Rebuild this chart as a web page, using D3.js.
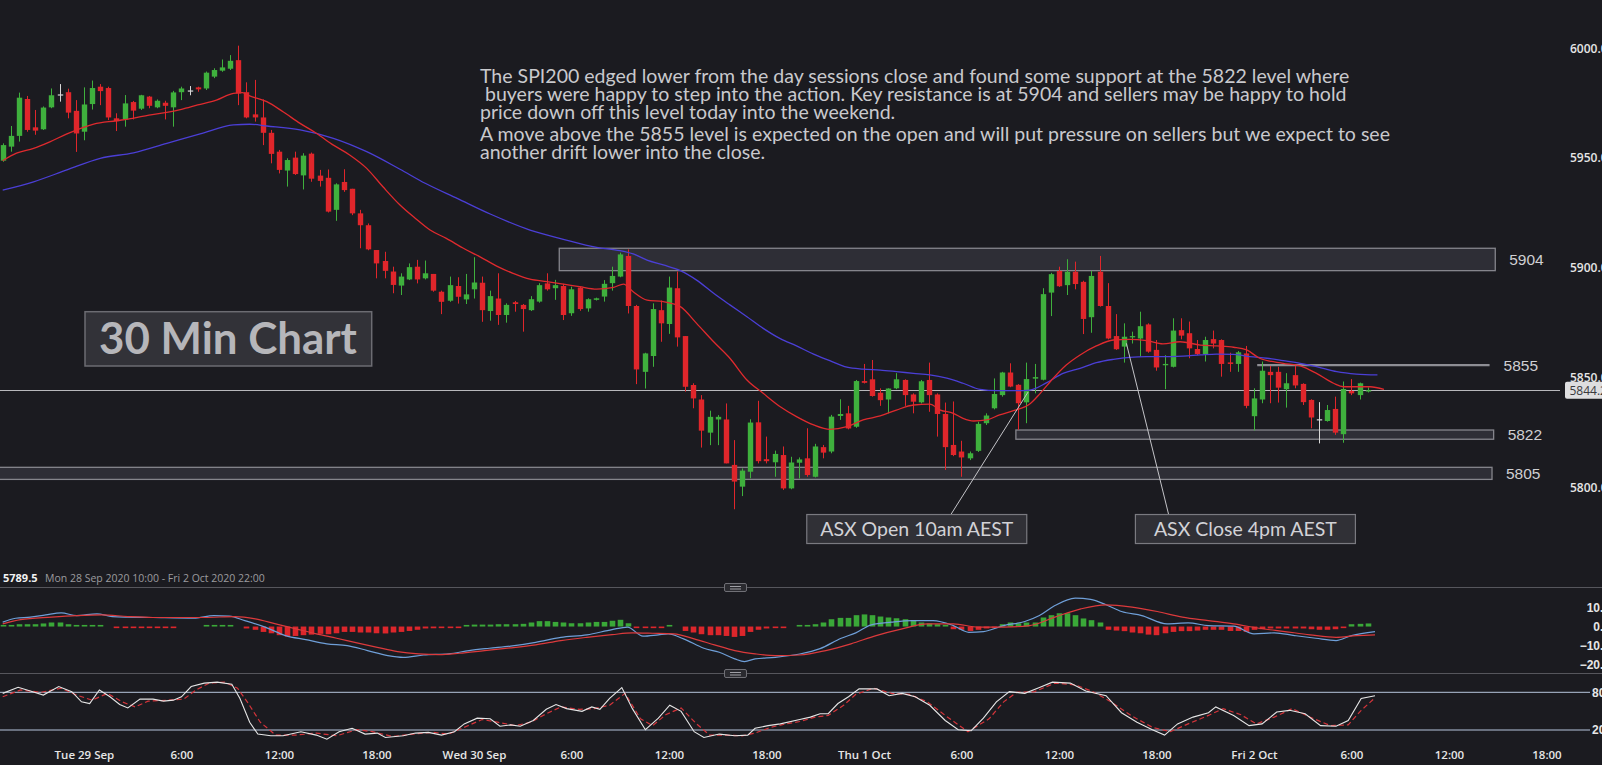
<!DOCTYPE html>
<html>
<head>
<meta charset="utf-8">
<title>SPI200 30 Min Chart</title>
<script src="https://cdn.jsdelivr.net/npm/d3@7/dist/d3.min.js"></script>
<style>
  html, body { margin: 0; padding: 0; background: #1b1b20; overflow: hidden; }
  svg { display: block; }
</style>
</head>
<body>
<svg id="svg1" width="1602" height="765"></svg>
<script>
// 30 minute bars, first visible bar opens Mon 28 Sep 19:00
var firstBar = "2020-09-28 19:00";

var barOpen = [
 5948.8,5955.2,5960.1,5976.9,5964.0,5963.1,5973.1,5979.0,5980.0,5971.5,
 5962.0,5974.6,5982.5,5981.9,5968.1,5967.6,5975.5,5972.5,5978.0,5973.1,
 5975.2,5973.1,5980.0,5980.8,5982.2,5981.7,5987.1,5989.8,5990.7,5994.6,
 5980.0,5969.9,5968.5,5961.5,5952.9,5944.3,5950.2,5942.1,5952.0,5942.0,
 5941.0,5926.4,5939.1,5936.0,5924.8,5919.4,5908.1,5903.1,5898.3,5891.9,
 5894.7,5900.5,5895.2,5897.2,5889.1,5885.0,5891.7,5885.6,5890.2,5893.2,
 5880.3,5886.0,5878.5,5884.3,5883.1,5880.7,5884.6,5892.9,5890.7,5891.7,
 5879.3,5891.0,5881.5,5885.4,5886.9,5893.0,5896.0,5905.4,5882.6,5852.6,
 5859.8,5880.7,5874.4,5890.7,5868.9,5846.6,5840.0,5824.9,5830.9,5830.9,
 5810.2,5800.3,5807.1,5829.6,5812.8,5811.4,5814.7,5799.5,5811.2,5813.2,
 5804.8,5818.3,5816.3,5832.5,5833.7,5827.6,5848.4,5849.2,5843.1,5840.0,
 5845.1,5848.9,5842.3,5838.7,5848.9,5842.3,5833.4,5819.3,5816.3,5813.2,
 5816.6,5829.2,5836.0,5842.0,5852.3,5846.7,5838.7,5849.5,5849.0,5888.7,
 5898.6,5892.1,5898.2,5893.6,5877.5,5898.2,5882.6,5868.9,5864.1,5868.3,
 5867.8,5874.2,5862.6,5855.6,5854.9,5871.6,5870.2,5863.0,5860.7,5867.5,
 5867.1,5856.9,5856.2,5861.0,5832.4,5840.0,5852.6,5852.6,5844.7,5851.1,
 5847.1,5839.8,5831.0,5830.2,5835.7,5824.2,5843.9,5842.0,5843.6
];
var barHigh = [
 5956.7,5964.6,5979.8,5978.3,5971.9,5973.5,5981.7,5983.7,5981.6,5976.4,
 5982.2,5985.3,5983.7,5982.5,5970.4,5978.7,5976.0,5978.8,5978.3,5976.7,
 5976.1,5980.6,5982.5,5982.8,5982.5,5989.4,5990.9,5994.9,5996.9,6001.2,
 5984.5,5985.6,5976.7,5962.8,5953.7,5949.9,5952.9,5952.2,5952.5,5944.6,
 5944.8,5938.5,5944.9,5936.0,5926.4,5920.2,5908.1,5907.3,5900.5,5897.5,
 5902.0,5903.6,5903.3,5897.2,5889.6,5896.0,5895.7,5897.2,5904.8,5896.0,
 5889.6,5897.5,5883.8,5884.9,5883.5,5887.1,5893.0,5897.5,5894.5,5892.7,
 5891.4,5891.4,5886.1,5886.4,5894.4,5900.5,5906.9,5908.4,5883.1,5861.3,
 5883.8,5885.1,5896.0,5898.3,5868.9,5847.4,5842.0,5834.9,5832.9,5838.2,
 5821.5,5808.6,5831.0,5839.4,5823.1,5816.7,5818.6,5813.9,5813.6,5826.9,
 5819.8,5819.3,5833.0,5840.1,5837.1,5848.9,5856.2,5858.0,5845.1,5845.1,
 5852.0,5849.2,5842.8,5848.9,5856.8,5842.8,5838.6,5839.1,5821.2,5816.3,
 5829.9,5833.7,5849.6,5852.6,5856.5,5847.0,5856.8,5856.2,5890.7,5897.7,
 5900.5,5903.9,5902.8,5894.1,5898.6,5905.4,5893.0,5878.9,5874.7,5870.9,
 5880.0,5874.7,5867.1,5860.2,5877.0,5877.0,5875.5,5867.1,5868.6,5871.4,
 5867.4,5861.3,5862.1,5864.4,5845.1,5857.3,5855.3,5854.9,5852.0,5855.3,
 5847.4,5840.1,5838.8,5837.5,5841.3,5848.2,5849.3,5847.7,5845.5
];
var barLow = [
 5948.3,5952.9,5957.5,5962.0,5960.6,5962.8,5972.7,5975.7,5968.1,5952.8,
 5958.1,5972.1,5974.1,5967.3,5962.3,5964.3,5967.6,5971.9,5972.7,5972.7,
 5967.6,5964.3,5976.4,5978.6,5980.2,5981.0,5986.4,5989.3,5990.1,5974.1,
 5968.1,5966.6,5955.9,5947.6,5943.0,5937.0,5942.3,5935.7,5939.2,5937.0,
 5925.2,5921.4,5934.6,5924.0,5908.9,5908.0,5895.2,5895.2,5888.4,5887.6,
 5894.4,5892.9,5894.7,5889.1,5878.9,5884.5,5883.7,5883.5,5886.0,5875.4,
 5875.9,5874.0,5875.0,5880.0,5870.9,5880.3,5884.1,5889.6,5885.4,5876.2,
 5878.1,5880.4,5880.0,5885.1,5884.6,5889.6,5895.7,5879.2,5847.0,5845.0,
 5854.9,5866.3,5869.9,5864.1,5843.6,5836.0,5818.1,5819.2,5819.2,5810.9,
 5790.0,5796.0,5804.1,5810.9,5810.9,5804.8,5798.8,5799.1,5804.0,5804.8,
 5804.5,5813.2,5815.5,5830.7,5826.4,5827.1,5847.3,5841.3,5837.1,5833.7,
 5844.7,5837.1,5833.7,5838.2,5834.4,5823.1,5807.9,5814.2,5804.8,5812.4,
 5816.1,5828.4,5835.5,5841.3,5845.6,5826.2,5829.2,5842.8,5848.7,5878.0,
 5891.3,5887.6,5890.2,5869.8,5870.4,5882.3,5867.4,5862.6,5856.8,5865.5,
 5859.5,5861.3,5853.1,5844.7,5854.6,5867.4,5858.8,5860.2,5857.3,5863.3,
 5850.4,5852.6,5852.6,5836.0,5825.9,5838.3,5838.3,5838.6,5836.3,5845.1,
 5837.5,5826.9,5820.0,5829.9,5823.9,5820.3,5842.0,5840.0,5843.2
];
var barClose = [
 5955.9,5960.1,5977.5,5962.8,5962.5,5973.0,5978.6,5979.0,5970.7,5961.2,
 5974.4,5981.9,5980.5,5968.5,5966.8,5974.9,5971.6,5978.6,5973.8,5976.1,
 5973.8,5979.9,5981.7,5980.8,5981.3,5988.9,5990.1,5991.3,5994.3,5979.4,
 5968.5,5968.5,5961.5,5951.9,5944.6,5949.1,5942.7,5951.1,5940.6,5939.6,
 5925.6,5938.0,5935.4,5924.8,5919.4,5908.4,5902.0,5898.6,5892.2,5896.0,
 5900.3,5894.7,5897.5,5889.6,5884.5,5892.1,5886.8,5887.9,5893.3,5880.7,
 5887.1,5878.5,5883.1,5883.5,5881.2,5885.7,5892.1,5890.2,5892.1,5878.5,
 5890.2,5881.2,5885.7,5886.1,5892.7,5896.3,5906.1,5882.6,5853.7,5861.0,
 5881.2,5874.7,5891.0,5868.3,5845.8,5840.5,5825.8,5832.1,5832.1,5810.9,
 5802.6,5807.6,5829.5,5811.9,5811.9,5815.2,5799.5,5811.3,5812.7,5805.6,
 5818.6,5815.8,5832.2,5833.4,5826.8,5848.4,5847.6,5841.6,5839.7,5845.0,
 5849.2,5842.0,5839.0,5848.3,5842.0,5833.4,5818.3,5814.7,5813.6,5815.5,
 5828.9,5832.7,5842.5,5852.3,5845.9,5838.3,5849.3,5850.2,5888.0,5897.1,
 5891.6,5898.2,5892.6,5876.7,5896.3,5882.6,5867.8,5862.9,5868.6,5868.9,
 5873.4,5861.8,5854.6,5856.2,5871.4,5869.1,5863.3,5860.7,5867.1,5865.5,
 5856.2,5856.2,5861.5,5837.1,5840.5,5853.1,5851.1,5845.4,5847.4,5846.4,
 5838.8,5831.8,5831.0,5835.2,5824.9,5844.8,5842.8,5847.4,5844.2
];

// moving averages: [bar, value]
var maFast = [
 [0,5948.8],[1.7,5952.2],[3.8,5954.4],[5.8,5957.4],[7.9,5961.0],[11.2,5965.5],[14,5967.0],[16,5968.1],
 [18,5969.6],[20,5970.7],[22,5972.2],[24,5974.2],[26.3,5976.4],[28.4,5979.5],[29.5,5979.8],[30.4,5978.3],
 [32.5,5975.7],[34.5,5971.1],[36.6,5965.8],[38.6,5961.3],[40.7,5955.9],[42.7,5951.4],[44.8,5945.3],
 [46.8,5936.9],[48.9,5928.6],[50.8,5922.5],[52.6,5917.2],[54.6,5913.4],[56.7,5908.9],[58.7,5905.1],
 [60.8,5900.8],[62.8,5897.5],[64.9,5894.8],[67,5893.7],[69,5892.6],[71,5891.4],[73.1,5890.3],[75.2,5891.1],
 [76.4,5892.6],[77.6,5889.1],[79.3,5885.3],[81.3,5884.6],[83.4,5882.3],[85.4,5874.7],[87.5,5866.3],
 [89.5,5858.8],[91.6,5848.9],[93.6,5842.8],[95.7,5836.7],[97.7,5832.2],[99.8,5828.4],[101.8,5826.4],
 [103.9,5827.6],[105.9,5830.7],[108,5832.5],[110,5835.2],[112.1,5837.5],[114.1,5837.9],[115.4,5835.2],
 [117,5833.7],[118.2,5831.4],[119.5,5830.2],[121.1,5830.7],[122.7,5833.0],[124.4,5834.9],[126.4,5837.9],
 [127.7,5842.8],[129.3,5849.7],[130.9,5855.7],[132.6,5860.3],[134.6,5864.4],[136.7,5867.1],[138.7,5867.4],
 [140.8,5866.8],[142.8,5865.3],[144.9,5866.3],[147.4,5864.8],[149.4,5864.4],[151.5,5863.8],[153.1,5862.6],
 [154.7,5858.8],[157.6,5856.5],[159.7,5855.3],[161.7,5851.9],[163.8,5847.4],[165,5845.8],[166.6,5845.8],
 [168.3,5845.8],[170,5844.6]
];
var maSlow = [
 [0,5935.4],[3.8,5939.2],[7.9,5944.6],[12,5949.9],[16.1,5952.4],[20.2,5956.7],[24.3,5961.0],[28.4,5965.1],
 [30.4,5965.4],[32.5,5964.6],[36.6,5962.8],[40.7,5959.0],[44.8,5952.9],[48.9,5944.9],[52,5938.5],[56,5931.5],
 [60,5924.5],[64.9,5917.2],[69,5913.0],[73.1,5909.3],[76,5907.8],[77.6,5906.3],[79.3,5903.5],[81.3,5901.3],
 [83.4,5898.7],[85.4,5894.4],[87.5,5888.4],[89.5,5883.1],[91.6,5877.7],[93.6,5872.4],[95.7,5867.7],
 [97.7,5864.4],[99.8,5860.7],[101.8,5857.7],[103.9,5854.7],[105.9,5853.8],[108,5853.4],[110,5852.7],
 [112.1,5851.9],[114.1,5851.2],[116.2,5849.7],[118.2,5847.4],[120.3,5844.6],[122.3,5844.0],[124.4,5844.0],
 [126.4,5844.3],[128.5,5847.7],[130.5,5851.9],[132.6,5854.2],[134.6,5856.8],[136.7,5858.3],[138.7,5859.2],
 [140.8,5859.5],[142.8,5859.5],[145.3,5859.8],[147.4,5860.3],[149.4,5860.7],[151.5,5860.6],[153.5,5859.5],
 [155.6,5858.8],[157.6,5857.7],[159.7,5856.5],[161.7,5855.0],[164.2,5852.7],[166.6,5851.6],[169.2,5851.2]
];

// MACD histogram, one value per bar
var macdHist = [
 0.8,0.8,1.2,1.2,1.2,1.6,2.1,2.1,1.2,0.35,0.35,0.35,0.5,0,-0.35,-0.35,-0.35,-0.35,-0.35,-0.35,
 -0.35,-0.35,0,0,0,0.35,0.35,0.35,0.35,0,-1.0,-1.7,-2.8,-3.5,-4.5,-5.2,-4.9,-4.5,-4.2,-3.8,
 -4.0,-3.5,-2.8,-2.8,-3.1,-3.1,-3.5,-3.6,-3.1,-2.8,-2.3,-1.7,-1.0,-0.9,-0.7,-0.5,-0.2,0.7,1.0,1.0,
 1.0,1.2,1.2,1.2,1.4,2.1,2.8,2.8,2.4,2.1,1.7,1.7,2.1,2.4,2.4,3.0,3.5,1.7,-0.5,-0.7,
 -0.5,-0.5,0.35,0,-2.3,-3.1,-4.0,-4.5,-4.5,-4.9,-5.4,-4.9,-2.8,-1.7,-1.0,-0.7,-0.7,0,0.5,0.5,
 1.2,2.1,3.8,4.5,4.5,5.9,6.3,5.9,5.2,4.7,4.3,3.8,3.3,2.1,1.6,1.2,0.5,-1.4,-1.7,-2.3,
 -1.7,-1.0,-0.5,1.2,2.1,1.7,2.1,2.1,4.7,5.9,6.9,6.9,5.9,4.2,3.3,2.1,-1.7,-2.1,-2.4,-3.1,
 -3.5,-4.2,-4.5,-3.5,-2.8,-2.4,-2.4,-2.1,-1.7,-1.7,-1.7,-2.3,-2.3,-2.8,-1.7,-1.4,-1.0,-1.0,-1.0,-1.0,
 -1.0,-1.4,-1.7,-1.7,-1.4,-0.35,1.2,1.4,1.6
];
var macdLine = [
 [0,2.3],[1.6,4.3],[3.4,4.9],[5.3,6.1],[7.2,7.1],[9.1,5.7],[11.6,6.6],[13.5,5.2],[18.5,4.7],[23.5,4.3],
 [26,5.7],[27.9,5.4],[29.8,3.1],[32.3,-0.3],[34.8,-4.7],[37.3,-6.8],[39.9,-9.0],[42.4,-9.9],[44.9,-12.5],
 [47.4,-15.1],[49.3,-16.0],[51.8,-14.8],[54.9,-14.2],[57.4,-12.5],[59.9,-11.3],[62.5,-10.2],[65.6,-8.2],
 [68.7,-5.6],[71.9,-4.3],[75,-1.6],[76.9,-0.3],[78.8,-5.0],[80.7,-4.3],[81.9,-3.8],[83.8,-6.4],[86.3,-11.3],
 [88.2,-13.4],[90.1,-16.8],[91.3,-18.2],[92.6,-16.8],[95.1,-16.0],[98.1,-14.3],[100.6,-11.5],[103.2,-6.1],
 [105,-3.3],[106.9,0.9],[109.4,2.3],[111.9,3.1],[114.5,3.1],[117,0.5],[118.9,-3.0],[120.7,-2.6],[123.2,0.5],
 [125.8,2.6],[127.6,5.7],[129.5,10.9],[132,14.8],[133.9,14.1],[135.8,11.3],[137.7,7.8],[140.2,5.7],
 [143.3,1.4],[145.9,1.9],[148.4,0.5],[151.5,0.2],[154,-3.8],[156.5,-3.3],[159,-4.7],[161.6,-6.1],
 [164.1,-7.3],[166,-4.7],[168.9,-2.6]
];
var macdSignal = [
 [0,1.4],[2.2,3.6],[6,4.9],[9.1,5.7],[12.2,6.1],[15.4,5.2],[18.5,4.7],[24.8,4.7],[28.6,5.2],[31.1,4.0],
 [33.6,1.4],[36.1,-1.2],[38.6,-3.8],[41.1,-6.1],[43.6,-8.5],[46.1,-10.8],[48.6,-13.0],[51.2,-14.2],
 [53.7,-14.6],[56.2,-13.9],[59.3,-12.5],[62.5,-11.1],[65.6,-9.5],[68.7,-7.3],[71.9,-5.6],[75,-4.2],
 [77.5,-3.3],[80,-3.5],[82.6,-3.8],[85.1,-6.4],[87.6,-9.5],[90.1,-12.5],[92.6,-14.2],[95.1,-15.1],
 [98.1,-14.8],[101.3,-12.5],[104.4,-9.0],[107.5,-4.7],[110.7,-1.2],[113.8,1.4],[117,1.4],[120.1,-0.3],
 [123.2,-0.3],[126.4,0.5],[129.5,4.9],[132.7,9.2],[135.8,11.3],[139,10.1],[142.1,7.8],[145.2,4.9],
 [148.4,3.1],[151.5,1.4],[154.6,-0.9],[157.8,-2.6],[160.9,-4.3],[164.1,-5.6],[166.6,-4.7],[168.9,-4.3]
];

// stochastic %K and %D
var stochK = [
 [0,78.3],[1.9,88.1],[3.4,82.1],[5,75.6],[6.9,89.2],[8.5,81.0],[9.7,64.8],[10.7,62.1],[11.9,83.7],[13.2,72.9],
 [14.4,60.5],[15.4,55.1],[16.9,69.2],[18.5,69.2],[19.8,65.9],[21,67.5],[22,72.9],[23.2,89.2],[24.8,94.6],
 [26.4,96.2],[28.2,92.9],[29.2,70.2],[30.4,32.4],[31.4,13.5],[33,10.8],[34.5,10.8],[36.7,17.3],[38.6,11.9],
 [39.9,5.4],[41.4,17.3],[43,22.7],[44.6,13.5],[46.1,15.1],[47.1,8.1],[49.3,10.8],[50.8,15.1],[52.4,16.2],
 [54,11.9],[55.6,17.3],[56.8,29.7],[58.4,38.9],[60,37.8],[61.2,25.9],[62.5,28.1],[63.7,25.9],[65.3,35.1],
 [66.9,52.9],[68.1,60.5],[69.4,54.0],[71.3,49.7],[72.5,56.7],[73.5,52.9],[74.7,70.2],[76.2,87.5],[77.5,54.0],
 [79.1,20.5],[80.7,38.9],[82.1,59.4],[83.5,49.7],[85.1,17.3],[86.3,8.1],[88.2,13.5],[90.1,10.8],[91.7,11.9],
 [92.6,22.7],[94.2,27.0],[95.7,29.7],[98.1,36.7],[99.4,40.5],[100.6,45.9],[101.6,45.9],[102.8,62.1],
 [104.1,72.9],[105.4,85.4],[107.6,85.4],[109.1,74.6],[110.7,78.3],[112.3,72.9],[114.1,59.4],[116,35.1],
 [117.6,20.5],[119.2,18.9],[120.7,38.9],[122.3,64.8],[123.9,81.0],[125.8,78.3],[127.6,87.5],[129.2,96.2],
 [131.4,94.6],[133.3,82.1],[135.8,74.6],[137.7,47.5],[139.6,32.4],[141.5,20.5],[143,11.9],[144.6,29.7],
 [146.5,40.5],[148.4,47.5],[149.3,56.7],[151.5,43.2],[153.4,27.0],[155,29.7],[156.8,48.6],[158.4,51.3],
 [160.3,45.9],[162.2,27.0],[164.1,25.9],[165.6,35.1],[167.2,70.2],[168.9,74.6]
];
var stochD = [
 [0,72.9],[2.2,83.7],[4.7,80.0],[7.2,86.5],[9.1,75.6],[11,67.5],[12.9,78.3],[14.7,64.8],[16.3,56.7],[17.9,65.9],
 [20.4,67.5],[22.3,69.2],[23.8,83.7],[25.4,94.6],[27.3,96.2],[28.9,86.5],[30.1,64.8],[31.7,32.4],[33.6,11.9],
 [36.1,11.9],[38.6,15.1],[41.1,10.8],[43.6,20.5],[45.5,17.3],[48,9.7],[50.5,13.5],[53,16.2],[54.9,13.5],
 [57.1,25.9],[59,36.7],[60.9,32.4],[63.1,27.0],[65,32.4],[66.9,45.9],[68.7,56.7],[71,52.9],[72.8,54.0],
 [74.7,59.4],[76.6,78.3],[78.5,37.8],[80,27.0],[81.6,44.3],[83.5,55.1],[85.4,29.7],[87,11.9],[88.8,11.9],
 [91,10.8],[92.6,15.1],[94.5,24.3],[96.4,29.7],[98.1,33.5],[100,40.5],[101.6,43.2],[103.5,59.4],[105,76.7],
 [107.2,86.5],[109.4,78.3],[111.6,76.7],[113.8,64.8],[116,43.2],[118.8,17.3],[121.4,37.8],[123.2,64.8],
 [124.8,80.0],[127,81.0],[129.5,94.6],[132,91.9],[134.2,81.0],[136.4,64.8],[139,42.1],[141.5,24.3],
 [143.7,17.3],[145.9,29.7],[148.4,43.2],[150.2,54.0],[152.4,44.3],[154.3,29.7],[156.5,40.5],[158.7,54.0],
 [160.9,40.5],[163.4,27.0],[165.6,28.1],[167.2,51.3],[168.9,71.3]
];

// support / resistance zones (price range, bar span)
var zoneLabels = ["5904", "5822", "5805"];
var zoneTop = [5908.9, 5826.1, 5809.1];
var zoneBottom = [5898.7, 5821.9, 5803.6];
var zoneFrom = [68.5, 124.7, -1];
var zoneTo = [183.7, 183.5, 183.3];
var levelLine = {label: "5855", price: 5855.7, from: 154.4, to: 183.0};
var lastPrice = 5844.2;

var callouts = [
  {text: "ASX Open 10am AEST", bar: 126.2, price: 5843.4, footBar: 116.7, boxBar: 112.5, boxPrice: 5787.6},
  {text: "ASX Close 4pm AEST", bar: 138.3, price: 5865.6, footBar: 143.5, boxBar: 152.95, boxPrice: 5787.6}
];

var noteLines = [
  "The SPI200 edged lower from the day sessions close and found some support at the 5822 level where",
  " buyers were happy to step into the action. Key resistance is at 5904 and sellers may be happy to hold",
  "price down off this level today into the weekend.",
  "A move above the 5855 level is expected on the open and will put pressure on sellers but we expect to see",
  "another drift lower into the close."
];

var priceTicks = [6000, 5950, 5900, 5850, 5800];
var macdTicks = [10, 0, -10, -20];
var stochTicks = [80, 20];
var timeTicks = [
  ["2020-09-29 00:00", "Tue 29 Sep"], ["2020-09-29 06:00", "6:00"], ["2020-09-29 12:00", "12:00"], ["2020-09-29 18:00", "18:00"],
  ["2020-09-30 00:00", "Wed 30 Sep"], ["2020-09-30 06:00", "6:00"], ["2020-09-30 12:00", "12:00"], ["2020-09-30 18:00", "18:00"],
  ["2020-10-01 00:00", "Thu 1 Oct"], ["2020-10-01 06:00", "6:00"], ["2020-10-01 12:00", "12:00"], ["2020-10-01 18:00", "18:00"],
  ["2020-10-02 00:00", "Fri 2 Oct"], ["2020-10-02 06:00", "6:00"], ["2020-10-02 12:00", "12:00"], ["2020-10-02 18:00", "18:00"]
];

// ---------------------------------------------------------------
var width = 1602, height = 765;
var svg = d3.select('#svg1');
svg.append('rect').attr('width', width).attr('height', height).attr('fill', '#1b1b20');

var parseTime = d3.timeParse('%Y-%m-%d %H:%M');
var t0 = parseTime(firstBar);
var halfHour = 30 * 60 * 1000;
function barTime(i) { return new Date(t0.getTime() + i * halfHour); }

var x = d3.scaleTime().domain([barTime(0), barTime(200)]).range([2.7, 2.7 + 200 * 8.125]);
var y = d3.scaleLinear().domain([5800, 6000]).range([487.3, 48.3]);
var yMacd = d3.scaleLinear().domain([-20, 10]).range([665, 607.3]);
var yStoch = d3.scaleLinear().domain([20, 80]).range([730, 692.3]);

var defs = svg.append('defs');
defs.append('clipPath').attr('id', 'clipPrice').append('rect').attr('x', 0).attr('y', 0).attr('width', 1560).attr('height', 587);
defs.append('clipPath').attr('id', 'clipMacd').append('rect').attr('x', 0).attr('y', 588).attr('width', 1560).attr('height', 85);
defs.append('clipPath').attr('id', 'clipStoch').append('rect').attr('x', 0).attr('y', 674).attr('width', 1590).attr('height', 70);

var up = '#3fb03d', down = '#e0262b', flat = '#d8d8d8';

// ---- price panel ----
var price = svg.append('g').attr('clip-path', 'url(#clipPrice)');

// zones
price.selectAll('rect.zone')
    .data(zoneLabels)
    .enter()
    .append('rect')
    .attr('class', 'zone')
    .attr('x', function(d, i){ return x(barTime(zoneFrom[i])); })
    .attr('y', function(d, i){ return y(zoneTop[i]); })
    .attr('width', function(d, i){ return x(barTime(zoneTo[i])) - x(barTime(zoneFrom[i])); })
    .attr('height', function(d, i){ return y(zoneBottom[i]) - y(zoneTop[i]); })
    .attr('fill', 'rgba(190,190,210,0.12)')
    .attr('stroke', '#85858c')
    .attr('stroke-width', 1.3);

price.append('line')
    .attr('x1', x(barTime(levelLine.from))).attr('x2', x(barTime(levelLine.to)))
    .attr('y1', y(levelLine.price)).attr('y2', y(levelLine.price))
    .attr('stroke', '#8e8e94').attr('stroke-width', 2.2);

// last price line
price.append('line')
    .attr('x1', 0).attr('x2', 1565)
    .attr('y1', Math.round(y(lastPrice)) + 0.5).attr('y2', Math.round(y(lastPrice)) + 0.5)
    .attr('stroke', '#b8b8bc').attr('stroke-width', 1);

var candles = barOpen.map(function(o, i){
    return {t: barTime(i), o: o, h: barHigh[i], l: barLow[i], c: barClose[i]};
});
function candleColor(d){ return d.c > d.o ? up : (d.c < d.o ? down : flat); }

price.selectAll('line.wick')
    .data(candles)
    .enter()
    .append('line')
    .attr('class', 'wick')
    .attr('x1', function(d){ return Math.round(x(d.t)) + 0.5; })
    .attr('x2', function(d){ return Math.round(x(d.t)) + 0.5; })
    .attr('y1', function(d){ return y(d.h); })
    .attr('y2', function(d){ return y(d.l); })
    .attr('stroke', candleColor)
    .attr('stroke-width', 1);

var bodyW = 5.4;
price.selectAll('rect.body')
    .data(candles)
    .enter()
    .append('rect')
    .attr('class', 'body')
    .attr('x', function(d){ return Math.round(x(d.t)) + 0.5 - bodyW / 2; })
    .attr('y', function(d){ return y(Math.max(d.o, d.c)); })
    .attr('width', bodyW)
    .attr('height', function(d){ return Math.max(1.2, Math.abs(y(d.o) - y(d.c))); })
    .attr('fill', candleColor);

var maLine = d3.line()
    .x(function(d){ return x(barTime(d[0])); })
    .y(function(d){ return y(d[1]); })
    .curve(d3.curveMonotoneX);

price.append('path').datum(maSlow).attr('d', maLine)
    .attr('fill', 'none').attr('stroke', '#4b3fd6').attr('stroke-width', 1.3);
price.append('path').datum(maFast).attr('d', maLine)
    .attr('fill', 'none').attr('stroke', '#df2a2e').attr('stroke-width', 1.3);

// zone labels
var zoneText = zoneLabels.map(function(d, i){ return {label: d, price: (zoneTop[i] + zoneBottom[i]) / 2, end: zoneTo[i]}; });
zoneText.push({label: levelLine.label, price: levelLine.price, end: levelLine.to});
svg.selectAll('text.zoneLabel')
    .data(zoneText)
    .enter()
    .append('text')
    .attr('class', 'zoneLabel')
    .attr('x', function(d){ return x(barTime(d.end)) + 14; })
    .attr('y', function(d){ return y(d.price) + 5.5; })
    .attr('fill', '#cfcfd2')
    .attr('font-family', 'Liberation Sans, Arial, sans-serif')
    .attr('font-size', 15.5)
    .text(function(d){ return d.label; });

// callouts
callouts.forEach(function(c){
    var bx = x(barTime(c.boxBar)), by = y(c.boxPrice);
    svg.append('line')
        .attr('x1', x(barTime(c.footBar))).attr('y1', by)
        .attr('x2', x(barTime(c.bar))).attr('y2', y(c.price))
        .attr('stroke', '#c4c4c8').attr('stroke-width', 1);
    svg.append('rect')
        .attr('x', bx - 110).attr('y', by).attr('width', 220).attr('height', 29)
        .attr('fill', '#303036').attr('stroke', '#7a7a80').attr('stroke-width', 1.2);
    svg.append('text')
        .attr('x', bx).attr('y', by + 21)
        .attr('text-anchor', 'middle')
        .attr('fill', '#d2d2d6')
        .attr('font-family', 'Lato, sans-serif')
        .attr('font-size', 19.5)
        .text(c.text);
});

// "30 Min Chart" label
svg.append('rect').attr('x', 85).attr('y', 311.7).attr('width', 286.7).attr('height', 54.3)
    .attr('fill', '#323238').attr('stroke', '#6c6c72').attr('stroke-width', 1.5);
var bigLabel = svg.append('text')
    .attr('x', 228).attr('y', 354)
    .attr('text-anchor', 'middle')
    .attr('fill', '#b6b6ba')
    .attr('font-family', 'Lato, sans-serif')
    .attr('font-weight', 'bold')
    .attr('font-size', 44)
    .text('30 Min Chart');
var bl = bigLabel.node().getComputedTextLength();
if (bl > 0) bigLabel.attr('font-size', 44 * 258 / bl);

// commentary text, sized so the first line spans the same width as the reference
var baselines = [82.5, 100.8, 119, 140.5, 158.8];
var notes = svg.selectAll('text.note')
    .data(noteLines)
    .enter()
    .append('text')
    .attr('class', 'note')
    .attr('x', 480)
    .attr('y', function(d, i){ return baselines[i]; })
    .attr('fill', '#c9c9cd')
    .attr('font-family', 'Lato, sans-serif')
    .attr('font-size', 18)
    .style('white-space', 'pre')
    .text(function(d){ return d; });
var first = notes.nodes()[0].getComputedTextLength();
if (first > 0) notes.attr('font-size', 18 * 870 / first);

// price axis
var priceAxis = svg.append('g')
    .attr('transform', 'translate(1570,0)')
    .call(d3.axisRight(y).tickValues(priceTicks).tickFormat(d3.format('.1f')).tickSize(0).tickPadding(0));
priceAxis.select('.domain').remove();
priceAxis.selectAll('text')
    .attr('fill', '#e6e6e6')
    .attr('font-family', 'Open Sans, sans-serif')
    .attr('font-size', 12)
    .attr('font-weight', 600);

// last price tag
svg.append('rect').attr('x', 1565).attr('y', y(lastPrice) - 8.5).attr('width', 50).attr('height', 17)
    .attr('rx', 2).attr('fill', '#dedee0');
svg.append('text').attr('x', 1569.5).attr('y', y(lastPrice) + 4.3)
    .attr('fill', '#3a3a3e')
    .attr('font-family', 'Open Sans, sans-serif')
    .attr('font-size', 12)
    .text(d3.format('.1f')(lastPrice));

// header line above indicators
svg.append('text').attr('x', 3).attr('y', 582)
    .attr('fill', '#f2f2f2').attr('font-family', 'Open Sans, sans-serif')
    .attr('font-size', 11).attr('font-weight', 'bold')
    .text('5789.5');
svg.append('text').attr('x', 45).attr('y', 582)
    .attr('fill', '#9b9b9f').attr('font-family', 'Open Sans, sans-serif')
    .attr('font-size', 10.5)
    .text('Mon 28 Sep 2020 10:00 - Fri 2 Oct 2020 22:00');

// panel separators and drag handles
[587.5, 673.5].forEach(function(yy){
    svg.append('line').attr('x1', 0).attr('x2', width).attr('y1', yy).attr('y2', yy)
        .attr('stroke', '#56565c').attr('stroke-width', 1);
    svg.append('rect').attr('x', 724.5).attr('y', yy - 4).attr('width', 22).attr('height', 8)
        .attr('rx', 1.5).attr('fill', '#2a2a2f').attr('stroke', '#707076');
    svg.append('line').attr('x1', 730).attr('x2', 741).attr('y1', yy - 1).attr('y2', yy - 1).attr('stroke', '#a0a0a6');
    svg.append('line').attr('x1', 730).attr('x2', 741).attr('y1', yy + 1.5).attr('y2', yy + 1.5).attr('stroke', '#a0a0a6');
});

// ---- MACD panel ----
var macd = svg.append('g').attr('clip-path', 'url(#clipMacd)');
var histData = macdHist.map(function(v, i){ return {t: barTime(i), v: v}; })
    .filter(function(d){ return d.v !== 0; });
function histH(d){ return Math.max(1.6, Math.abs(yMacd(d.v) - yMacd(0))); }
macd.selectAll('rect.hist')
    .data(histData)
    .enter()
    .append('rect')
    .attr('class', 'hist')
    .attr('x', function(d){ return Math.round(x(d.t)) + 0.5 - 2.8; })
    .attr('width', 5.6)
    .attr('y', function(d){ return d.v > 0 ? yMacd(0) - histH(d) : yMacd(0); })
    .attr('height', histH)
    .attr('fill', function(d){ return d.v > 0 ? '#3aa838' : '#dc262b'; });

var macdPath = d3.line()
    .x(function(d){ return x(barTime(d[0])); })
    .y(function(d){ return yMacd(d[1]); })
    .curve(d3.curveMonotoneX);
macd.append('path').datum(macdLine).attr('d', macdPath)
    .attr('fill', 'none').attr('stroke', '#6f9fd8').attr('stroke-width', 1.2);
macd.append('path').datum(macdSignal).attr('d', macdPath)
    .attr('fill', 'none').attr('stroke', '#dc3a3c').attr('stroke-width', 1.2);

var macdAxis = svg.append('g')
    .attr('transform', 'translate(1610,0)')
    .call(d3.axisRight(yMacd).tickValues(macdTicks).tickFormat(d3.format('.1f')).tickSize(0).tickPadding(0));
macdAxis.select('.domain').remove();
macdAxis.selectAll('text')
    .attr('text-anchor', 'end')
    .attr('fill', '#e6e6e6')
    .attr('font-family', 'Liberation Sans, Arial, sans-serif')
    .attr('font-size', 12)
    .attr('font-weight', 'bold');

// ---- stochastic panel ----
var stoch = svg.append('g').attr('clip-path', 'url(#clipStoch)');
stochTicks.forEach(function(v){
    stoch.append('line').attr('x1', 0).attr('x2', 1591)
        .attr('y1', yStoch(v)).attr('y2', yStoch(v))
        .attr('stroke', '#b7c6dc').attr('stroke-width', 1);
});
var stochPath = d3.line()
    .x(function(d){ return x(barTime(d[0])); })
    .y(function(d){ return yStoch(d[1]); });
stoch.append('path').datum(stochD).attr('d', stochPath)
    .attr('fill', 'none').attr('stroke', '#d4343a').attr('stroke-width', 1.2)
    .attr('stroke-dasharray', '5,3');
stoch.append('path').datum(stochK).attr('d', stochPath)
    .attr('fill', 'none').attr('stroke', '#e6e6e6').attr('stroke-width', 1.1);

var stochAxis = svg.append('g')
    .attr('transform', 'translate(1592,0)')
    .call(d3.axisRight(yStoch).tickValues(stochTicks).tickFormat(d3.format('d')).tickSize(0).tickPadding(0));
stochAxis.select('.domain').remove();
stochAxis.selectAll('text')
    .attr('fill', '#e6e6e6')
    .attr('font-family', 'Liberation Sans, Arial, sans-serif')
    .attr('font-size', 12)
    .attr('font-weight', 'bold');

// ---- time axis ----
var tickLookup = {};
timeTicks.forEach(function(d){ tickLookup[+parseTime(d[0])] = d[1]; });
var timeAxis = svg.append('g')
    .attr('transform', 'translate(0,748)')
    .call(d3.axisBottom(x)
        .tickValues(timeTicks.map(function(d){ return parseTime(d[0]); }))
        .tickFormat(function(d){ return tickLookup[+d]; })
        .tickSize(0).tickPadding(3));
timeAxis.select('.domain').remove();
timeAxis.selectAll('text')
    .attr('fill', '#e6e6e6')
    .attr('font-family', 'Open Sans, sans-serif')
    .attr('font-size', 11.5)
    .attr('font-weight', 600);
</script>
</body>
</html>
